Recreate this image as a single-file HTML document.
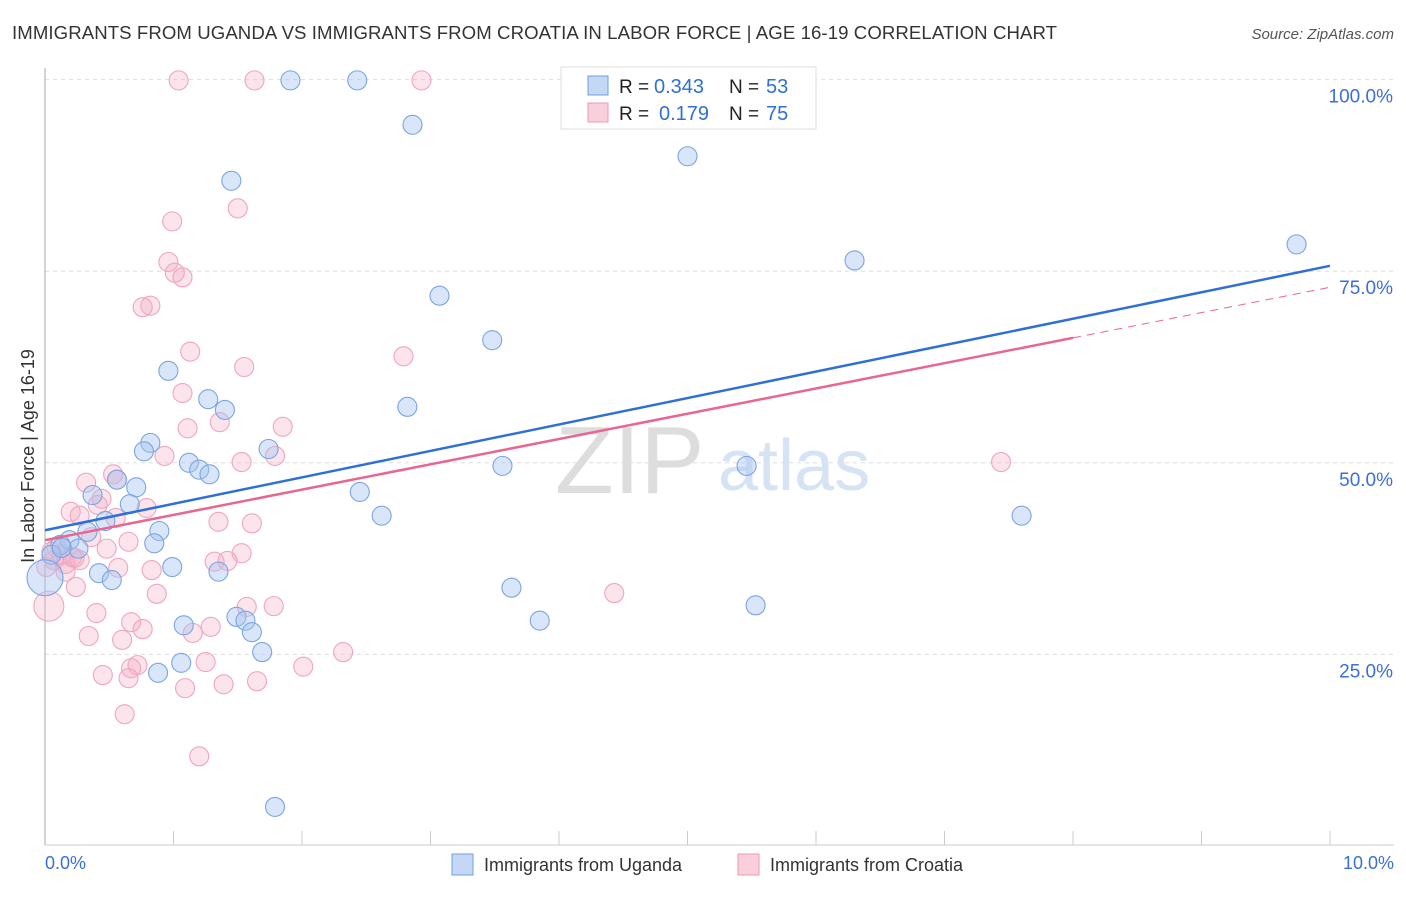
<!DOCTYPE html>
<html><head><meta charset="utf-8"><style>
body{margin:0;background:#fff;font-family:"Liberation Sans",sans-serif;}
svg text{font-family:"Liberation Sans",sans-serif;}
</style></head><body>
<svg width="1406" height="892" xmlns="http://www.w3.org/2000/svg">
<text x="12" y="39" font-size="18.6" fill="#333" textLength="1045">IMMIGRANTS FROM UGANDA VS IMMIGRANTS FROM CROATIA IN LABOR FORCE | AGE 16-19 CORRELATION CHART</text>
<text x="1394" y="39" font-size="15" fill="#555" font-style="italic" text-anchor="end">Source: ZipAtlas.com</text>
<g id="grid"></g>
<text x="555" y="493" font-size="96" fill="#ddd" font-family="Liberation Serif">ZIP</text>
<text x="718" y="490" font-size="72" fill="#d6e3f5">atlas</text>
<g id="pts"></g>
<g id="lines"></g>
<text transform="translate(34,456) rotate(-90)" font-size="18" fill="#333" text-anchor="middle">In Labor Force | Age 16-19</text>
<text x="45" y="869" font-size="18" fill="#3a6fd8">0.0%</text>
<text x="1394" y="869" font-size="18" fill="#3a6fd8" text-anchor="end">10.0%</text>
<g>
<rect x="561" y="67" width="255" height="62" fill="#fff" stroke="#ddd"/>
<rect x="588" y="76" width="20" height="19" fill="#c4d8f5" stroke="#6f9fe0"/>
<rect x="588" y="103" width="20" height="19" fill="#f9cfdc" stroke="#ef9ab5"/>
<text x="619" y="93" font-size="19" fill="#222">R =</text>
<text x="654" y="93" font-size="20" fill="#2f6fd6">0.343</text>
<text x="729" y="93" font-size="19" fill="#222">N =</text>
<text x="766" y="93" font-size="20" fill="#2f6fd6">53</text>
<text x="619" y="120" font-size="19" fill="#222">R =</text>
<text x="659" y="120" font-size="20" fill="#2f6fd6">0.179</text>
<text x="729" y="120" font-size="19" fill="#222">N =</text>
<text x="766" y="120" font-size="20" fill="#2f6fd6">75</text>
</g>
<g><rect x="452" y="854" width="21" height="21" fill="#c4d8f5" stroke="#6f9fe0"/><text x="484" y="871" font-size="18" fill="#333">Immigrants from Uganda</text></g>
<g><rect x="738" y="854" width="21" height="21" fill="#f9cfdc" stroke="#ef9ab5"/><text x="770" y="871" font-size="18" fill="#333">Immigrants from Croatia</text></g>
</svg>
<script>
const blueX=[1.91,2.43,2.86,5.00,1.45,9.74,6.30,3.07,3.48,0.96,2.82,1.27,1.40,0.82,0.77,1.74,1.12,1.20,1.28,3.56,5.46,0.37,0.71,0.56,0.66,2.45,2.62,7.60,0.89,0.47,0.33,0.19,0.12,0.26,0.05,0.85,0.42,0.52,0.99,1.35,0.0,3.63,5.53,3.85,1.49,1.56,1.61,1.08,1.69,1.06,0.88,1.79,0.13];
const blueY=[99.9,99.9,94.1,90.0,86.8,78.5,76.4,71.8,66.0,62.0,57.3,58.3,56.9,52.6,51.5,51.8,50.0,49.1,48.5,49.6,49.6,45.8,46.8,47.8,44.6,46.2,43.1,43.1,41.1,42.4,41.0,39.9,39.3,38.8,38.0,39.5,35.6,34.7,36.4,35.8,35.0,33.7,31.4,29.4,29.9,29.4,27.9,28.8,25.3,23.9,22.6,5.1,38.9];
const pinkX=[1.04,1.63,2.93,1.50,0.99,0.96,1.01,1.07,0.76,0.82,1.13,2.79,1.55,1.07,1.36,1.11,1.85,1.53,0.93,1.79,7.44,0.53,0.32,0.56,0.79,0.41,0.44,0.20,0.27,0.55,0.36,0.65,0.09,0.13,0.21,0.27,0.16,0.05,0.48,1.35,1.61,1.53,1.32,1.42,0.57,0.83,0.16,0.24,0.87,0.03,1.57,1.78,4.43,0.40,0.67,0.76,0.34,0.60,1.15,1.29,2.32,2.01,0.72,0.67,1.25,0.45,0.65,1.09,1.39,1.65,0.62,1.20,0.23,0.01,0.07];
const pinkY=[99.9,99.9,99.9,83.2,81.5,76.2,74.8,74.2,70.3,70.5,64.5,63.9,62.5,59.1,55.3,54.5,54.7,50.1,50.9,50.9,50.1,48.5,47.4,47.8,44.1,44.5,45.3,43.6,43.1,42.8,40.3,39.7,38.9,38.0,37.7,37.3,36.8,38.4,38.8,42.3,42.1,38.2,37.1,37.2,36.3,36.0,35.8,33.8,32.9,31.3,31.2,31.3,33.0,30.4,29.2,28.3,27.4,26.9,27.8,28.6,25.3,23.4,23.6,23.2,24.0,22.3,21.9,20.6,21.1,21.5,17.2,11.7,37.6,36.4,37.3];
const yTicks=[25,50,75,100];
const yTickLabels=["25.0%","50.0%","75.0%","100.0%"];
const blueTrend=[41.2,75.7];
const pinkTrend=[39.9,72.9];
const pinkSolidEnd=8.0;
const NS="http://www.w3.org/2000/svg";
const sx=v=>45+v*128.5, sy=v=>846-v*7.664;
function mk(tag,attrs,parent){const e=document.createElementNS(NS,tag);for(const k in attrs)e.setAttribute(k,attrs[k]);parent.appendChild(e);return e;}
const grid=document.getElementById('grid');
yTicks.forEach((t,i)=>{
 const l=mk('line',{x1:45,x2:1394,y1:sy(t),y2:sy(t),stroke:'#ddd','stroke-dasharray':'4,4'},grid);
 
 
 const tx=mk('text',{x:1393,y:sy(t)+23,'font-size':19,fill:'#3a6fd8','text-anchor':'end'},grid);
 tx.textContent=yTickLabels[i];
 
 
});
const ax=mk('line',{x1:45,x2:1394,y1:845,y2:845,stroke:'#ccc'},grid);


const ay=mk('line',{x1:45,x2:45,y1:68,y2:845,stroke:'#aaa'},grid);


for(let i=1;i<=10;i++){
 const t=mk('line',{x1:sx(i),x2:sx(i),y1:831,y2:845,stroke:'#ccc'},grid);
 
 
}
const pts=document.getElementById('pts');
pinkX.forEach((x,i)=>{
 const r=(x<0.05&&pinkY[i]<32)?15:9.5;
 const c=mk('circle',{cx:sx(x),cy:sy(pinkY[i]),r:r,fill:'rgba(244,170,195,0.32)',stroke:'#f0a5bd','stroke-width':1.1},pts);
 
 
});
blueX.forEach((x,i)=>{
 const r=(x===0)?18:9.5;
 const c=mk('circle',{cx:sx(x),cy:sy(blueY[i]),r:r,fill:'rgba(164,196,240,0.42)',stroke:'#7aa5e2','stroke-width':1.1},pts);
 
 
});
const lines=document.getElementById('lines');
const bl=mk('line',{x1:sx(0),y1:sy(blueTrend[0]),x2:sx(10),y2:sy(blueTrend[1]),stroke:'#2f6fd6','stroke-width':2.5},lines);


const pAt=x=>pinkTrend[0]+(pinkTrend[1]-pinkTrend[0])*x/10;
const pl=mk('line',{x1:sx(0),y1:sy(pinkTrend[0]),x2:sx(pinkSolidEnd),y2:sy(pAt(pinkSolidEnd)),stroke:'#e8668f','stroke-width':2.5},lines);


const pd=mk('line',{x1:sx(pinkSolidEnd),y1:sy(pAt(pinkSolidEnd)),x2:sx(10),y2:sy(pinkTrend[1]),stroke:'#e8668f','stroke-width':1,'stroke-dasharray':'8,6'},lines);


</script>
</body></html>
